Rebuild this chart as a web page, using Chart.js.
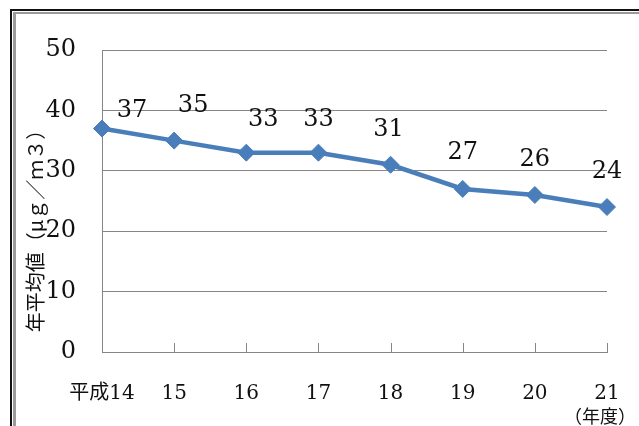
<!DOCTYPE html>
<html>
<head>
<meta charset="utf-8">
<script src="https://cdn.jsdelivr.net/npm/chart.js@4/dist/chart.umd.min.js"></script>
<style>
body { margin: 0; background: #fff; }
#wrap { position: relative; width: 639px; height: 426px; overflow: hidden; }
#f1 { position: absolute; left: 10px; top: 9px; width: 700px; height: 500px; border-left: 2px solid #111; border-top: 2px solid #111; }
#f2 { position: absolute; left: 13px; top: 12px; width: 700px; height: 500px; border-left: 3px solid #9a9a9a; border-top: 2px solid #9a9a9a; }
canvas { position: absolute; left: 0; top: 0; }
</style>
</head>
<body>
<div id="wrap">
  <div id="f1"></div>
  <div id="f2"></div>
  <canvas id="grafico" width="639" height="426"></canvas>
</div>
<script>
// datos
var anios = ['平成14', '15', '16', '17', '18', '19', '20', '21'];
var promedio = [37, 35, 33, 33, 31, 27, 26, 24];
var ticksY = [0, 10, 20, 30, 40, 50];

var azul = '#4A7EBB';
var gris = '#868686';

// desplazamiento de las etiquetas respecto al punto (como en el original)
var despX = [30, 19, 17, 0, -2, 0, 0, 0];
var despY = [-18, -35, -33, -33, -35, -36, -35, -35];

var marcas = {
    id: 'marcas',
    beforeDatasetsDraw: function(chart) {
        var ctx = chart.ctx;
        var x = chart.scales.x;
        ctx.save();
        ctx.strokeStyle = gris;
        ctx.lineWidth = 1;
        ctx.beginPath();
        for (var i = 0; i < x.ticks.length; i++) {
            var px = Math.round(x.getPixelForTick(i)) + 0.5;
            ctx.moveTo(px, x.top);
            ctx.lineTo(px, x.top - 9);
        }
        ctx.stroke();
        ctx.restore();
    },
    afterDatasetsDraw: function(chart) {
        var ctx = chart.ctx;
        var meta = chart.getDatasetMeta(0);
        ctx.save();
        ctx.fillStyle = '#111';
        ctx.font = '24px "DejaVu Serif"';
        ctx.textAlign = 'center';
        ctx.textBaseline = 'middle';
        meta.data.forEach(function(p, i) {
            ctx.fillText(String(promedio[i]), p.x + despX[i], p.y + despY[i]);
        });
        // unidad del eje x
        var x = chart.scales.x;
        ctx.font = '18px "Noto Sans CJK JP"';
        ctx.fillText('（年度）', x.getPixelForTick(x.ticks.length - 1) - 7, x.top + 64);
        ctx.restore();
    }
};

var ctx = document.getElementById('grafico').getContext('2d');
var grafico = new Chart(ctx, {
    type: 'line',
    data: {
        labels: anios,
        datasets: [{
            data: promedio,
            borderColor: azul,
            backgroundColor: azul,
            borderWidth: 4.5,
            tension: 0,
            pointStyle: 'rectRot',
            pointRadius: 8.5,
            pointBorderWidth: 1,
            pointBackgroundColor: azul,
            pointBorderColor: azul
        }]
    },
    options: {
        responsive: false,
        animation: false,
        layout: {
            padding: { left: 23, right: 32, top: 50, bottom: 22 }
        },
        plugins: {
            legend: { display: false },
            tooltip: { enabled: false }
        },
        scales: {
            x: {
                grid: { display: false, drawTicks: false },
                border: { color: gris, width: 1 },
                afterFit: function(scale) {
                    scale.height = 52;
                    scale.paddingLeft = 0;
                    scale.paddingRight = 0;
                },
                ticks: {
                    color: '#111',
                    padding: 30,
                    maxRotation: 0,
                    autoSkip: false,
                    font: { family: '"DejaVu Serif", "Noto Sans CJK JP"', size: 20 }
                }
            },
            y: {
                min: 0,
                max: 50,
                afterBuildTicks: function(scale) {
                    scale.ticks = ticksY.map(function(v) { return { value: v }; });
                },
                afterFit: function(scale) { scale.width = 79; },
                grid: { color: gris, lineWidth: 1, drawTicks: false },
                border: { color: gris, width: 1 },
                ticks: {
                    color: '#111',
                    padding: 26,
                    font: { family: '"DejaVu Serif"', size: 24 }
                },
                title: {
                    display: true,
                    text: '年平均値（μｇ／ｍ３）　　　',
                    color: '#111',
                    padding: 0,
                    font: { family: '"Noto Sans CJK JP"', size: 20 }
                }
            }
        }
    },
    plugins: [marcas]
});
</script>
</body>
</html>
